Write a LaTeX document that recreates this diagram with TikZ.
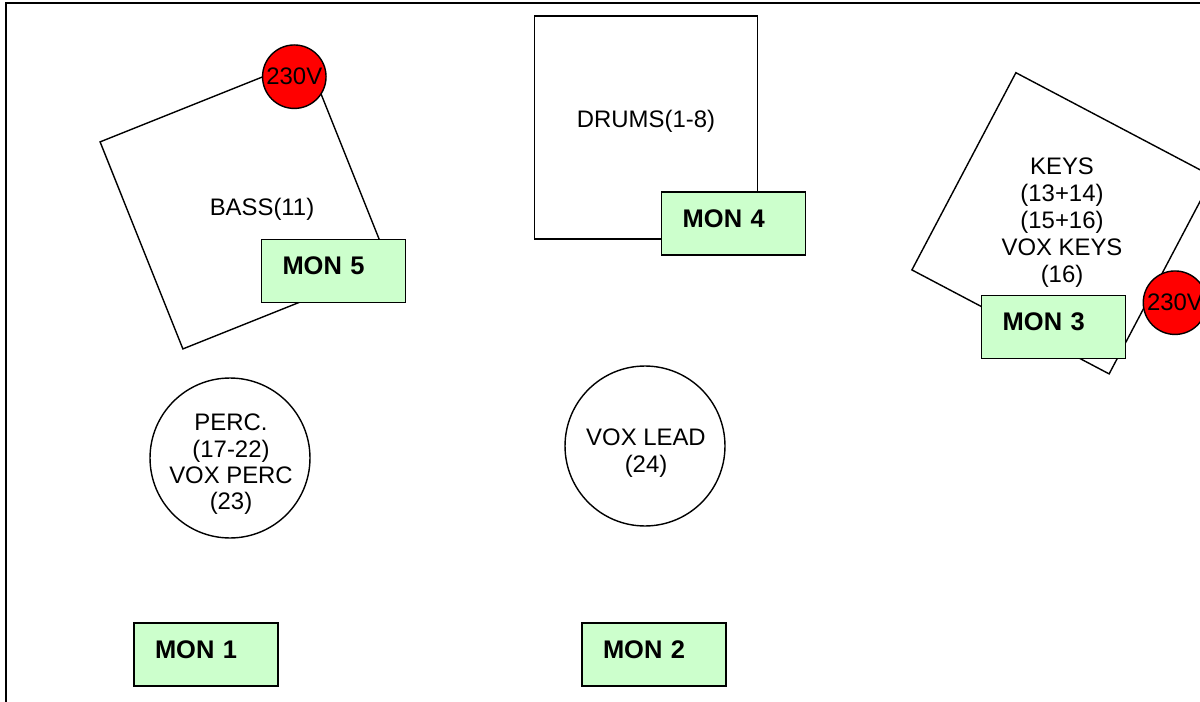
\documentclass[tikz,border=0pt]{standalone}
\usepackage{fontspec}
\setmainfont{Liberation Sans}
\usepackage{tikz}
\definecolor{monfill}{HTML}{CCFFCC}

\begin{document}
\begin{tikzpicture}[x=0.02cm,y=-0.02cm,
  every node/.style={font=\fontsize{13.6}{15}\selectfont},
  kit/.style={draw,line width=0.8pt,fill=white,minimum size=4.46cm,inner sep=0pt},
  player/.style={draw,line width=0.8pt,circle,fill=white,minimum size=3.2cm,inner sep=0pt},
  power/.style={draw,line width=0.8pt,circle,fill=red,minimum size=1.27cm,inner sep=0pt},
  mon/.style={draw,line width=0.8pt,fill=monfill,text width=2.04cm,inner xsep=0.42cm,
    inner ysep=0pt,text height=0.71cm,text depth=0.55cm,align=left,
    font=\fontsize{14.5}{16}\selectfont\bfseries}]
          \useasboundingbox (0,0) rectangle (1200,702);
          \clip (0,0) rectangle (1200,702);
          \draw[line width=1.1pt] (6,3) rectangle (1230,730);
          % stage risers
          \node[kit,rotate=21.8] (bass) at (245,204) {};
          \node (basstxt) at (262,209) {BASS(11)};
          \node[kit] (drums) at (646,127.5) {};
          \node (drumstxt) at (646,121) {DRUMS(1-8)};
          \node[kit,rotate=-27.8] (keys) at (1062.5,223.3) {};
          \node[align=center,font=\fontsize{13.6}{15.4}\selectfont] (keystxt) at (1062,223)
            {KEYS\\(13+14)\\(15+16)\\VOX KEYS\\(16)};
          % power points
          \node[power] (pwrbass) at (294.3,76.7) {230V};
          \node[power] (pwrkeys) at (1175,302.7) {230V};
          % players in front
          \node[player] (perc) at (230,458) {};
          \node[align=center] (perctxt) at (231,464.5) {PERC.\\(17-22)\\VOX PERC\\(23)};
          \node[player] (lead) at (645,446) {};
          \node[align=center] (leadtxt) at (646,453) {VOX LEAD\\(24)};
          % monitors
          \node[mon] (mon1) at (206,654.5) {MON 1};
          \node[mon] (mon2) at (654,654.5) {MON 2};
          \node[mon] (mon3) at (1053.7,327) {MON 3};
          \node[mon] (mon4) at (733.7,223.4) {MON 4};
          \node[mon] (mon5) at (333.5,271) {MON 5};
        \end{tikzpicture}
\end{document}
